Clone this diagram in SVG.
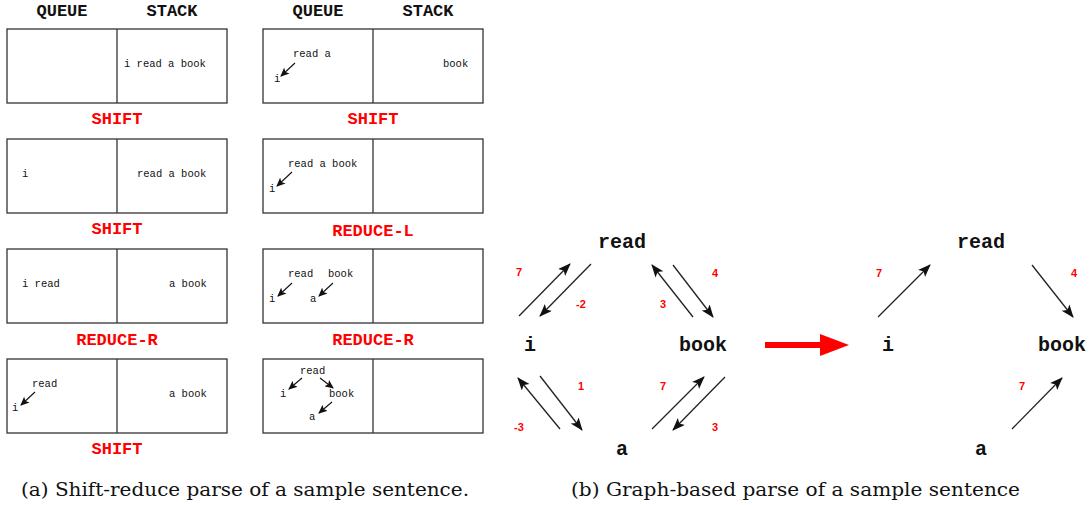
<svg xmlns="http://www.w3.org/2000/svg" width="1091" height="505" viewBox="0 0 1091 505">
<style>
.hdr{font-family:"Liberation Mono",monospace;font-weight:bold;font-size:17px;fill:#111;text-anchor:middle}
.act{font-family:"Liberation Mono",monospace;font-weight:bold;font-size:17px;fill:#f00;text-anchor:middle}
.w{font-family:"Liberation Mono",monospace;font-size:10.5px;fill:#111}
.box{fill:#fff;stroke:#333;stroke-width:1.3}
.sm{stroke:#111;stroke-width:1.1;fill:none}
.node{font-family:"Liberation Mono",monospace;font-weight:bold;font-size:20px;fill:#111;text-anchor:middle}
.wt{font-family:"Liberation Sans",sans-serif;font-weight:bold;font-size:11px;fill:#f00;text-anchor:middle}
.edge{stroke:#222;stroke-width:1.3;fill:none}
.cap{font-family:"DejaVu Serif","Liberation Serif",serif;font-size:18px;fill:#111}
</style>
<defs>
<marker id="ah" markerUnits="userSpaceOnUse" markerWidth="14" markerHeight="12" refX="12" refY="5" orient="auto">
<path d="M0,0 L13,5 L0,10 L3,5 Z" fill="#111"/>
</marker>
<marker id="as" markerUnits="userSpaceOnUse" markerWidth="10" markerHeight="8" refX="8" refY="4" orient="auto">
<path d="M0,0 L9,4 L0,8 L2,4 Z" fill="#111"/>
</marker>
</defs>

<g id="headers">
<text class="hdr" x="62" y="16">QUEUE</text>
<text class="hdr" x="172" y="16">STACK</text>
<text class="hdr" x="318" y="16">QUEUE</text>
<text class="hdr" x="428" y="16">STACK</text>
</g>

<g id="left-step1">
<rect class="box" x="7" y="29" width="220" height="74"/>
<line class="box" x1="117" y1="29" x2="117" y2="103"/>
<text class="w" x="124" y="67">i read a book</text>
<text class="act" x="117" y="124">SHIFT</text>
</g>
<g id="left-step2">
<rect class="box" x="7" y="139" width="220" height="74"/>
<line class="box" x1="117" y1="139" x2="117" y2="213"/>
<text class="w" x="22" y="177">i</text>
<text class="w" x="137" y="177">read a book</text>
<text class="act" x="117" y="234">SHIFT</text>
</g>
<g id="left-step3">
<rect class="box" x="7" y="249" width="220" height="74"/>
<line class="box" x1="117" y1="249" x2="117" y2="323"/>
<text class="w" x="22" y="287">i read</text>
<text class="w" x="169" y="287">a book</text>
<text class="act" x="117" y="345">REDUCE-R</text>
</g>
<g id="left-step4">
<rect class="box" x="7" y="359" width="220" height="74"/>
<line class="box" x1="117" y1="359" x2="117" y2="433"/>
<text class="w" x="32" y="387">read</text>
<text class="w" x="12" y="411">i</text>
<line class="sm" x1="35" y1="392" x2="21" y2="405" marker-end="url(#as)"/>
<text class="w" x="169" y="397">a book</text>
<text class="act" x="117" y="454">SHIFT</text>
</g>

<g id="right-step1">
<rect class="box" x="263" y="29" width="220" height="74"/>
<line class="box" x1="373" y1="29" x2="373" y2="103"/>
<text class="w" x="293" y="57">read a</text>
<text class="w" x="274" y="82">i</text>
<line class="sm" x1="295" y1="63" x2="281" y2="76" marker-end="url(#as)"/>
<text class="w" x="443" y="67">book</text>
<text class="act" x="373" y="124">SHIFT</text>
</g>
<g id="right-step2">
<rect class="box" x="263" y="139" width="220" height="74"/>
<line class="box" x1="373" y1="139" x2="373" y2="213"/>
<text class="w" x="288" y="167">read a book</text>
<text class="w" x="269" y="192">i</text>
<line class="sm" x1="292" y1="172" x2="277" y2="186" marker-end="url(#as)"/>
<text class="act" x="373" y="236">REDUCE-L</text>
</g>
<g id="right-step3">
<rect class="box" x="263" y="249" width="220" height="74"/>
<line class="box" x1="373" y1="249" x2="373" y2="323"/>
<text class="w" x="288" y="277">read</text>
<text class="w" x="328" y="277">book</text>
<text class="w" x="269" y="302">i</text>
<text class="w" x="310" y="302">a</text>
<line class="sm" x1="292" y1="283" x2="278" y2="296" marker-end="url(#as)"/>
<line class="sm" x1="333" y1="283" x2="319" y2="296" marker-end="url(#as)"/>
<text class="act" x="373" y="345">REDUCE-R</text>
</g>
<g id="right-step4">
<rect class="box" x="263" y="359" width="220" height="74"/>
<line class="box" x1="373" y1="359" x2="373" y2="433"/>
<text class="w" x="300" y="374">read</text>
<text class="w" x="280" y="397">i</text>
<text class="w" x="329" y="397">book</text>
<text class="w" x="309" y="420">a</text>
<line class="sm" x1="302" y1="378" x2="289" y2="389" marker-end="url(#as)"/>
<line class="sm" x1="320" y1="378" x2="333" y2="388" marker-end="url(#as)"/>
<line class="sm" x1="332" y1="402" x2="319" y2="413" marker-end="url(#as)"/>
</g>

<g id="g1-read"><text class="node" x="622" y="248">read</text></g>
<g id="g1-i"><text class="node" x="530" y="351">i</text></g>
<g id="g1-book"><text class="node" x="703" y="351">book</text></g>
<g id="g1-a"><text class="node" x="622" y="455">a</text></g>

<g id="g2-read"><text class="node" x="981" y="248">read</text></g>
<g id="g2-i"><text class="node" x="888" y="351">i</text></g>
<g id="g2-book"><text class="node" x="1062" y="351">book</text></g>
<g id="g2-a"><text class="node" x="981" y="455">a</text></g>

<g id="connectors">
<line class="edge" x1="519" y1="316" x2="570" y2="264" marker-end="url(#ah)"/>
<line class="edge" x1="591" y1="264" x2="540" y2="316" marker-end="url(#ah)"/>
<line class="edge" x1="693" y1="317" x2="652" y2="265" marker-end="url(#ah)"/>
<line class="edge" x1="673" y1="265" x2="713" y2="317" marker-end="url(#ah)"/>
<line class="edge" x1="560" y1="429" x2="518" y2="378" marker-end="url(#ah)"/>
<line class="edge" x1="540" y1="376" x2="582" y2="430" marker-end="url(#ah)"/>
<line class="edge" x1="652" y1="429" x2="704" y2="377" marker-end="url(#ah)"/>
<line class="edge" x1="725" y1="377" x2="673" y2="430" marker-end="url(#ah)"/>
<line class="edge" x1="878" y1="317" x2="930" y2="265" marker-end="url(#ah)"/>
<line class="edge" x1="1032" y1="265" x2="1073" y2="317" marker-end="url(#ah)"/>
<line class="edge" x1="1012" y1="429" x2="1062" y2="378" marker-end="url(#ah)"/>
<line x1="765" y1="345" x2="824" y2="345" stroke="#f00" stroke-width="6"/>
<path d="M820,334 L849,345 L820,356 Z" fill="#f00"/>
</g>

<g id="weights">
<text class="wt" x="519" y="276">7</text>
<text class="wt" x="581" y="308">-2</text>
<text class="wt" x="715" y="277">4</text>
<text class="wt" x="663" y="308">3</text>
<text class="wt" x="581" y="390">1</text>
<text class="wt" x="519" y="431">-3</text>
<text class="wt" x="663" y="390">7</text>
<text class="wt" x="715" y="431">3</text>
<text class="wt" x="879" y="277">7</text>
<text class="wt" x="1074" y="277">4</text>
<text class="wt" x="1022" y="390">7</text>
</g>

<g id="captions">
<text class="cap" x="21" y="496" textLength="448" lengthAdjust="spacingAndGlyphs">(a)  Shift-reduce parse of a sample sentence.</text>
<text class="cap" x="571" y="496" textLength="449" lengthAdjust="spacingAndGlyphs">(b)  Graph-based parse of a sample sentence</text>
</g>
</svg>
